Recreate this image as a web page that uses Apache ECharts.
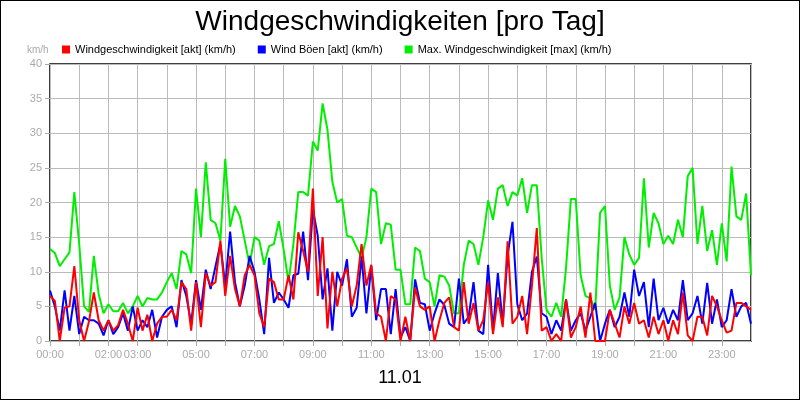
<!DOCTYPE html>
<html><head><meta charset="utf-8">
<script src="https://cdn.jsdelivr.net/npm/echarts@6/dist/echarts.min.js"></script>
<style>html,body{margin:0;padding:0;background:#fff}#c{width:800px;height:400px;box-sizing:border-box;border:1px solid #000}</style>
</head><body><div id="c"></div>
<script>
const xLabels = ['00:00','02:00','03:00','05:00','07:00','09:00','11:00','13:00','15:00','17:00','19:00','21:00','23:00'];
const stepMinutes = 10;
const akt = [
6.5,5.8,0,4.8,5,10.8, 3,0,2.8,7,3,1.5, 3,1.5,2.3,4.5,2.5,0, 4.8,1.5,3.8,0,2.5,3.5,
3.5,4.5,3,8.5,7.5,1.5, 8.5,2,9.8,8,8.5,14.5, 6.5,12.3,7.5,5,9.5,11, 9.5,4,2,9,8.5,6,
6,9.5,6,15.7,13,10, 22,6.5,15,1.8,10,5, 9,10.5,5,8,14,8, 11,4,3.5,0,6.5,6,
0,3.5,0,7.7,5,4.5, 5,0,3,5.5,6.3,2, 1.5,8.5,2.5,5.5,1.5,3, 8.5,1,6.3,2,14.4,2.5,
3.5,6.5,1,8,16.3,1.5, 2,0,1,0,6,0.5, 2,5,0.5,7,0,0, 0,4.5,2.5,0.5,5,2.5,
5.5,2.5,3,0.5,3.5,1, 3,0,3,1,7,0.8, 0,3.5,3.5,0.8,6.5,5, 3,1.2,1.5,5.5,5.5,5, 4.5];
const boeen = [
7.3,5,1.5,7.3,1.5,6.5, 1,3.5,3,3,2.5,0.8, 3,1,2,4,1.5,5, 1.5,3,2,4.5,0.5,3.5,
4.5,5,2,8.8,6.5,2.5, 8.8,4.5,10.3,7.5,10.8,14, 8,15.8,8.5,5,8,12.3, 10,6,1,12,5.5,7,
6,4.8,9.5,9.7,15.8,8.8, 19,15.2,6,10.5,1.5,10, 8,11.8,3.5,4.8,12.2,4, 10.8,3,7.5,7.5,1,7.5,
0.5,2,0,8.9,5.5,5.3, 1.5,4,6,5.2,2.5,2, 9,2.5,3.5,8.5,1.5,1, 11,1.5,9.8,2.5,12.3,17.2,
5.3,3,4,10,12.2,4, 3.5,1,3,1.5,6,1.5, 3,4,1.5,3.5,5.5,0, 2.5,4.5,2,3.5,7,3.5,
10.3,6.5,8.5,2,9,3, 4.8,2.5,4.5,3,8.8,3, 4,6.5,2.5,8.4,2.5,6, 2,3,7.5,3.5,5,5.5, 2.5];
const maxWind = [
13.3,12.7,10.8,11.8,12.8,21.5, 14,5,4.2,12.3,6.8,4, 5.3,4.3,4.3,5.5,4,5, 6.5,5,6.2,6,6,7,
8.5,9.8,7.5,13,12.5,9.8, 22,15,25.8,17.5,17,14.5, 26.3,16.5,19.5,18,14.5,11, 15,14.5,11,13.7,14,17.3,
13.2,8.5,14,21.5,21.5,21, 28.8,27.5,34.3,30.5,23,20, 20.5,15.2,15,13.5,12,15, 22,21.5,14,17,16.8,10.3,
10.3,5.3,5.3,13.5,13,9, 8.5,5,9.5,9.3,8,4, 4,11,14.5,14,11,15, 20.3,17.5,22,22.5,19.5,21.5,
21,23.5,18.5,22.5,22.5,12, 4.5,3.5,5.5,3.5,10.5,20.5, 20.5,9.5,6.5,6.2,4.5,18.5, 19.5,8,4.5,6.3,15,12.5,
11,12,23.5,13.5,18.5,17, 14,15.2,14,17.5,15,23.8, 25,14,19.5,13,16,11, 17,11.5,25.2,18,17.5,21.3, 9.5];
const toXY = arr => arr.map((v,i)=>[i*stepMinutes/60, v]);
const chart = echarts.init(document.getElementById('c'));
const hourOf = s => parseInt(s,10);
const shown = new Set(xLabels.map(hourOf));
chart.setOption({
  animation:false,
  title:{text:'Windgeschwindigkeiten [pro Tag]',left:'center',top:2,textStyle:{fontSize:28,fontWeight:'normal',color:'#000',fontFamily:'Liberation Sans'}},
  legend:{left:56,top:38,itemWidth:8,itemHeight:8,itemGap:22,icon:'rect',
    textStyle:{fontSize:11,color:'#000',fontFamily:'Liberation Sans'},
    data:['Windgeschwindigkeit [akt] (km/h)','Wind Böen [akt] (km/h)','Max. Windgeschwindigkeit [max] (km/h)']},
  graphic:[{type:'text',left:26,top:44,style:{text:'km/h',fontSize:10,fill:'#aaa',fontFamily:'Liberation Sans'}},
           {type:'text',left:'center',top:368,style:{text:'11.01',fontSize:18,fill:'#000',fontFamily:'Liberation Sans'}}],
  grid:{left:49,right:48,top:63,bottom:58,show:true,borderColor:'#000',borderWidth:1.5},
  xAxis:{type:'value',min:0,max:24,interval:1,
    axisLine:{show:false},axisTick:{show:true,lineStyle:{color:'#aaa'}},
    splitLine:{show:true,lineStyle:{color:'#bbb',width:1}},
    axisLabel:{showMaxLabel:false,color:'#aaa',fontSize:11,fontFamily:'Liberation Sans',
      formatter:v=>shown.has(v)?String(v).padStart(2,'0')+':00':''}},
  yAxis:{type:'value',min:0,max:40,interval:5,
    axisLine:{show:false},axisTick:{show:true,lineStyle:{color:'#aaa'}},
    splitLine:{show:true,lineStyle:{color:'#bbb',width:1}},
    axisLabel:{color:'#aaa',fontSize:11,fontFamily:'Liberation Sans'}},
  series:[
    {name:'Max. Windgeschwindigkeit [max] (km/h)',type:'line',data:toXY(maxWind),showSymbol:false,color:'#00ee00',lineStyle:{width:2},z:1},
    {name:'Wind Böen [akt] (km/h)',type:'line',data:toXY(boeen),showSymbol:false,color:'#0000ff',lineStyle:{width:2},z:2},
    {name:'Windgeschwindigkeit [akt] (km/h)',type:'line',data:toXY(akt),showSymbol:false,color:'#ff0000',lineStyle:{width:2},z:3}
  ]
});
</script></body></html>
